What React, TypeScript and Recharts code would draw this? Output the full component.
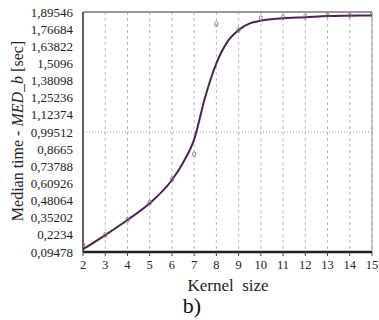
import { ComposedChart, Line, Scatter, XAxis, YAxis, CartesianGrid, ReferenceLine } from 'recharts';

const kernels = [2, 3, 4, 5, 6, 7, 8, 9, 10, 11, 12, 13, 14, 15];
const measured = [0.147, 0.222, 0.335, 0.465, 0.64, 0.83, 1.805, 1.76, 1.848, 1.856, 1.86, 1.87, 1.87, 1.875];

const fitKernel = [2, 3, 4, 5, 6, 6.5, 7, 7.5, 8, 8.5, 9, 9.5, 10, 11, 12, 13, 14, 15];
const fitTime = [0.115, 0.222, 0.335, 0.46, 0.635, 0.765, 0.94, 1.26, 1.51, 1.673, 1.76, 1.81, 1.83, 1.848, 1.856, 1.865, 1.868, 1.87];

const yTicks = [0.09478, 0.2234, 0.35202, 0.48064, 0.60926, 0.73788, 0.8665, 0.99512, 1.12374, 1.25236, 1.38098, 1.5096, 1.63822, 1.76684, 1.89546];
const yLabels = ['0,09478', '0,2234', '0,35202', '0,48064', '0,60926', '0,73788', '0,8665', '0,99512', '1,12374', '1,25236', '1,38098', '1,5096', '1,63822', '1,76684', '1,89546'];

const points = kernels.map((k, i) => ({ k, t: measured[i] }));
const curve = fitKernel.map((k, i) => ({ k, t: fitTime[i] }));

const serif = 'Liberation Serif, Tinos, Times New Roman, DejaVu Serif, serif';

const Marker = (props: any) => {
  const { cx, cy } = props;
  return <ellipse cx={cx} cy={cy} rx={1.6} ry={2.4} fill="none" stroke="#777" strokeWidth={0.9} />;
};

const App = () => {
  return (
    <div style={{ position: 'absolute', left: 0, top: 0, width: 379, height: 320, background: '#fff' }}>
      <ComposedChart width={379} height={320} margin={{ top: 12, right: 7, left: 0, bottom: 38 }}>
        <CartesianGrid horizontal={false} strokeDasharray="3 3" stroke="#bbb" />
        <XAxis
          dataKey="k"
          type="number"
          domain={[2, 15]}
          ticks={kernels}
          height={30}
          axisLine={{ stroke: '#222', strokeWidth: 2.5 }}
          tickLine={{ stroke: '#444' }}
          tickSize={4}
          tickMargin={4}
          tick={{ fill: '#222', fontSize: 12.5, fontFamily: serif }}
          allowDataOverflow
        />
        <YAxis
          type="number"
          domain={[0.09478, 1.89546]}
          ticks={yTicks}
          width={83}
          interval={0}
          axisLine={{ stroke: '#333', strokeWidth: 1.5 }}
          tickLine={false}
          tickSize={0}
          tickMargin={10}
          tickFormatter={(v: number) => yLabels[yTicks.indexOf(v)] ?? ''}
          tick={{ fill: '#222', fontSize: 13, fontFamily: serif }}
          allowDataOverflow
        />
        <ReferenceLine y={0.99512} stroke="#999" strokeDasharray="1 2" />
        <ReferenceLine y={1.89546} stroke="#777" strokeWidth={1.5} />
        <ReferenceLine x={15} stroke="#999" />
        <Line
          data={curve}
          dataKey="t"
          type="monotone"
          stroke="#4f2150"
          strokeWidth={2}
          dot={false}
          isAnimationActive={false}
        />
        <Scatter data={points} dataKey="t" shape={<Marker />} isAnimationActive={false} />
      </ComposedChart>
      <div
        style={{
          position: 'absolute',
          left: 18,
          top: 131,
          transform: 'translate(-50%, -50%) rotate(-90deg)',
          whiteSpace: 'nowrap',
          fontFamily: serif,
          fontSize: 16,
          color: '#222',
          lineHeight: 1,
        }}
      >
        Median time - <i>MED_b</i> [sec]
      </div>
      <div
        style={{
          position: 'absolute',
          left: 228,
          top: 285,
          transform: 'translate(-50%, -50%)',
          whiteSpace: 'pre',
          fontFamily: serif,
          fontSize: 17,
          color: '#222',
          lineHeight: 1,
        }}
      >
        Kernel  size
      </div>
      <div
        style={{
          position: 'absolute',
          left: 192,
          top: 306,
          transform: 'translate(-50%, -50%)',
          fontFamily: serif,
          fontSize: 22,
          color: '#111',
          lineHeight: 1,
        }}
      >
        b)
      </div>
    </div>
  );
};

export default App;
